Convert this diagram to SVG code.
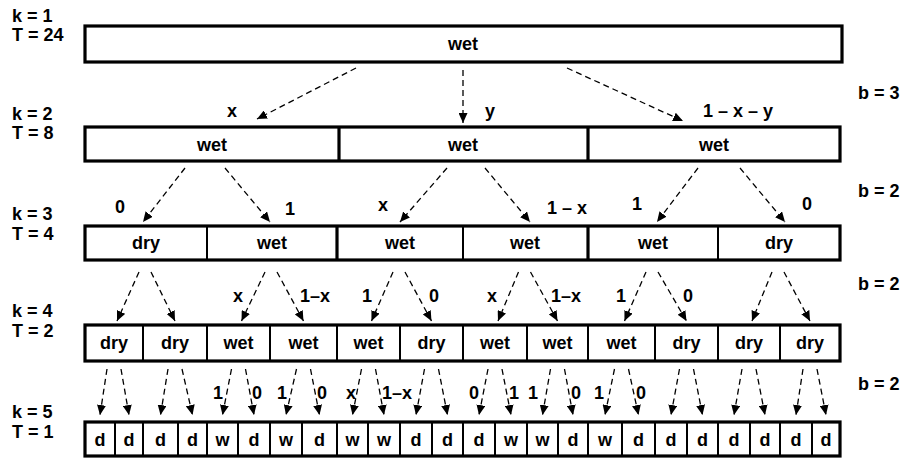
<svg xmlns="http://www.w3.org/2000/svg" width="903" height="458" viewBox="0 0 903 458">
  <style>
    .cell { fill: #ffffff; stroke: #000000; stroke-width: 2; }
    .frame { fill: none; stroke: #000000; stroke-width: 3.2; }
    .thick { stroke: #000000; stroke-width: 3.2; }
    .t { font-family: "Liberation Sans", Arial, sans-serif; font-weight: bold; font-size: 18px; fill: #000000; text-anchor: middle; }
    .side { font-family: "Liberation Sans", Arial, sans-serif; font-weight: bold; font-size: 18px; fill: #000000; }
    .p { font-family: "Liberation Sans", Arial, sans-serif; font-weight: bold; font-size: 18px; fill: #000000; }
    .e { stroke: #000000; stroke-width: 1.3; stroke-dasharray: 6 4; fill: none; marker-end: url(#ah); }
  </style>
  <defs>
    <marker id="ah" markerUnits="userSpaceOnUse" markerWidth="10" markerHeight="9" refX="10" refY="4.5" orient="auto">
      <path d="M0,0 L10,4.5 L0,9 Z" fill="#000000"/>
    </marker>
  </defs>

  <rect width="903" height="458" fill="#ffffff"/>

  <!-- level labels -->
  <g id="levels">
    <text class="side" x="12" y="22">k = 1</text>
    <text class="side" x="12" y="41">T = 24</text>
    <text class="side" x="12" y="120">k = 2</text>
    <text class="side" x="12" y="139">T = 8</text>
    <text class="side" x="12" y="220">k = 3</text>
    <text class="side" x="12" y="240">T = 4</text>
    <text class="side" x="12" y="317">k = 4</text>
    <text class="side" x="12" y="337">T = 2</text>
    <text class="side" x="12" y="418">k = 5</text>
    <text class="side" x="12" y="438">T = 1</text>
  </g>

  <!-- branching factors -->
  <g id="branching">
    <text class="side" x="858" y="99">b = 3</text>
    <text class="side" x="858" y="197">b = 2</text>
    <text class="side" x="858" y="290">b = 2</text>
    <text class="side" x="858" y="390">b = 2</text>
  </g>

  <!-- k = 1 -->
  <g id="n1">
    <rect class="frame" x="85" y="26" width="757" height="36" fill="#ffffff"/>
    <text class="t" x="463" y="50">wet</text>
  </g>

  <!-- k = 2 -->
  <g id="row2">
    <g id="n2-1"><rect class="cell" x="85" y="127" width="254" height="34"/><text class="t" x="212" y="151">wet</text></g>
    <g id="n2-2"><rect class="cell" x="339" y="127" width="249" height="34"/><text class="t" x="463" y="151">wet</text></g>
    <g id="n2-3"><rect class="cell" x="588" y="127" width="252" height="34"/><text class="t" x="714" y="151">wet</text></g>
    <rect class="frame" x="85" y="127" width="755" height="34"/>
    <line class="thick" x1="339" y1="127" x2="339" y2="161"/>
    <line class="thick" x1="588" y1="127" x2="588" y2="161"/>
  </g>

  <!-- k = 3 -->
  <g id="row3">
    <g id="n3-1"><rect class="cell" x="85" y="226" width="122" height="34"/><text class="t" x="146" y="249">dry</text></g>
    <g id="n3-2"><rect class="cell" x="207" y="226" width="130" height="34"/><text class="t" x="272" y="249">wet</text></g>
    <g id="n3-3"><rect class="cell" x="337" y="226" width="126" height="34"/><text class="t" x="400" y="249">wet</text></g>
    <g id="n3-4"><rect class="cell" x="463" y="226" width="125" height="34"/><text class="t" x="525" y="249">wet</text></g>
    <g id="n3-5"><rect class="cell" x="588" y="226" width="130" height="34"/><text class="t" x="653" y="249">wet</text></g>
    <g id="n3-6"><rect class="cell" x="718" y="226" width="122" height="34"/><text class="t" x="779" y="249">dry</text></g>
    <rect class="frame" x="85" y="226" width="755" height="34"/>
    <line class="thick" x1="337" y1="226" x2="337" y2="260"/>
    <line class="thick" x1="588" y1="226" x2="588" y2="260"/>
  </g>

  <!-- k = 4 -->
  <g id="row4">
    <g id="n4-1"><rect class="cell" x="85" y="325" width="58" height="36"/><text class="t" x="114" y="349">dry</text></g>
    <g id="n4-2"><rect class="cell" x="143" y="325" width="64" height="36"/><text class="t" x="175" y="349">dry</text></g>
    <g id="n4-3"><rect class="cell" x="207" y="325" width="63" height="36"/><text class="t" x="238.5" y="349">wet</text></g>
    <g id="n4-4"><rect class="cell" x="270" y="325" width="67" height="36"/><text class="t" x="303.5" y="349">wet</text></g>
    <g id="n4-5"><rect class="cell" x="337" y="325" width="63" height="36"/><text class="t" x="368.5" y="349">wet</text></g>
    <g id="n4-6"><rect class="cell" x="400" y="325" width="63" height="36"/><text class="t" x="431.5" y="349">dry</text></g>
    <g id="n4-7"><rect class="cell" x="463" y="325" width="64" height="36"/><text class="t" x="495" y="349">wet</text></g>
    <g id="n4-8"><rect class="cell" x="527" y="325" width="61" height="36"/><text class="t" x="557.5" y="349">wet</text></g>
    <g id="n4-9"><rect class="cell" x="588" y="325" width="67" height="36"/><text class="t" x="621.5" y="349">wet</text></g>
    <g id="n4-10"><rect class="cell" x="655" y="325" width="63" height="36"/><text class="t" x="686.5" y="349">dry</text></g>
    <g id="n4-11"><rect class="cell" x="718" y="325" width="62" height="36"/><text class="t" x="749" y="349">dry</text></g>
    <g id="n4-12"><rect class="cell" x="780" y="325" width="60" height="36"/><text class="t" x="810" y="349">dry</text></g>
    <rect class="frame" x="85" y="325" width="755" height="36"/>
  </g>

  <!-- k = 5 -->
  <g id="row5">
    <g id="n5-1"><rect class="cell" x="85" y="422" width="30" height="34"/><text class="t" x="100" y="446">d</text></g>
    <g id="n5-2"><rect class="cell" x="115" y="422" width="28" height="34"/><text class="t" x="129" y="446">d</text></g>
    <g id="n5-3"><rect class="cell" x="143" y="422" width="35" height="34"/><text class="t" x="160.5" y="446">d</text></g>
    <g id="n5-4"><rect class="cell" x="178" y="422" width="29" height="34"/><text class="t" x="192.5" y="446">d</text></g>
    <g id="n5-5"><rect class="cell" x="207" y="422" width="31" height="34"/><text class="t" x="222.5" y="446">w</text></g>
    <g id="n5-6"><rect class="cell" x="238" y="422" width="32" height="34"/><text class="t" x="254" y="446">d</text></g>
    <g id="n5-7"><rect class="cell" x="270" y="422" width="32" height="34"/><text class="t" x="286" y="446">w</text></g>
    <g id="n5-8"><rect class="cell" x="302" y="422" width="35" height="34"/><text class="t" x="319.5" y="446">d</text></g>
    <g id="n5-9"><rect class="cell" x="337" y="422" width="31" height="34"/><text class="t" x="352.5" y="446">w</text></g>
    <g id="n5-10"><rect class="cell" x="368" y="422" width="32" height="34"/><text class="t" x="384" y="446">w</text></g>
    <g id="n5-11"><rect class="cell" x="400" y="422" width="32" height="34"/><text class="t" x="416" y="446">d</text></g>
    <g id="n5-12"><rect class="cell" x="432" y="422" width="31" height="34"/><text class="t" x="447.5" y="446">d</text></g>
    <g id="n5-13"><rect class="cell" x="463" y="422" width="32" height="34"/><text class="t" x="479" y="446">d</text></g>
    <g id="n5-14"><rect class="cell" x="495" y="422" width="32" height="34"/><text class="t" x="511" y="446">w</text></g>
    <g id="n5-15"><rect class="cell" x="527" y="422" width="31" height="34"/><text class="t" x="542.5" y="446">w</text></g>
    <g id="n5-16"><rect class="cell" x="558" y="422" width="30" height="34"/><text class="t" x="573" y="446">d</text></g>
    <g id="n5-17"><rect class="cell" x="588" y="422" width="34" height="34"/><text class="t" x="605" y="446">w</text></g>
    <g id="n5-18"><rect class="cell" x="622" y="422" width="33" height="34"/><text class="t" x="638.5" y="446">d</text></g>
    <g id="n5-19"><rect class="cell" x="655" y="422" width="32" height="34"/><text class="t" x="671" y="446">d</text></g>
    <g id="n5-20"><rect class="cell" x="687" y="422" width="31" height="34"/><text class="t" x="702.5" y="446">d</text></g>
    <g id="n5-21"><rect class="cell" x="718" y="422" width="32" height="34"/><text class="t" x="734" y="446">d</text></g>
    <g id="n5-22"><rect class="cell" x="750" y="422" width="30" height="34"/><text class="t" x="765" y="446">d</text></g>
    <g id="n5-23"><rect class="cell" x="780" y="422" width="32" height="34"/><text class="t" x="796" y="446">d</text></g>
    <g id="n5-24"><rect class="cell" x="812" y="422" width="28" height="34"/><text class="t" x="826" y="446">d</text></g>
    <rect class="frame" x="85" y="422" width="755" height="34"/>
  </g>

  <!-- transitions -->
  <g id="connectors">
    <line class="e" x1="356" y1="68" x2="257" y2="119"/>
    <line class="e" x1="463" y1="70" x2="463" y2="123"/>
    <line class="e" x1="567" y1="68" x2="683" y2="121"/>

    <line class="e" x1="185" y1="168" x2="143" y2="222"/>
    <line class="e" x1="225" y1="168" x2="270" y2="222"/>
    <line class="e" x1="447" y1="168" x2="400" y2="222"/>
    <line class="e" x1="485" y1="168" x2="530" y2="222"/>
    <line class="e" x1="698" y1="168" x2="657" y2="222"/>
    <line class="e" x1="740" y1="168" x2="785" y2="222"/>

    <line class="e" x1="139" y1="272" x2="117" y2="321"/>
    <line class="e" x1="151" y1="272" x2="175" y2="321"/>
    <line class="e" x1="265" y1="272" x2="241.5" y2="321"/>
    <line class="e" x1="277" y1="272" x2="303.5" y2="321"/>
    <line class="e" x1="393" y1="272" x2="371.5" y2="321"/>
    <line class="e" x1="405" y1="272" x2="431.5" y2="321"/>
    <line class="e" x1="518.5" y1="272" x2="498" y2="321"/>
    <line class="e" x1="530.5" y1="272" x2="557.5" y2="321"/>
    <line class="e" x1="646" y1="272" x2="624.5" y2="321"/>
    <line class="e" x1="658" y1="272" x2="686.5" y2="321"/>
    <line class="e" x1="772" y1="272" x2="752" y2="321"/>
    <line class="e" x1="784" y1="272" x2="810" y2="321"/>

    <line class="e" x1="107" y1="369" x2="100" y2="415"/>
    <line class="e" x1="121" y1="369" x2="129" y2="415"/>
    <line class="e" x1="168" y1="369" x2="160.5" y2="415"/>
    <line class="e" x1="182" y1="369" x2="192.5" y2="415"/>
    <line class="e" x1="231.5" y1="369" x2="222.5" y2="415"/>
    <line class="e" x1="245.5" y1="369" x2="254" y2="415"/>
    <line class="e" x1="296.5" y1="369" x2="286" y2="415"/>
    <line class="e" x1="310.5" y1="369" x2="319.5" y2="415"/>
    <line class="e" x1="361.5" y1="369" x2="352.5" y2="415"/>
    <line class="e" x1="375.5" y1="369" x2="384" y2="415"/>
    <line class="e" x1="424.5" y1="369" x2="416" y2="415"/>
    <line class="e" x1="438.5" y1="369" x2="447.5" y2="415"/>
    <line class="e" x1="488" y1="369" x2="479" y2="415"/>
    <line class="e" x1="502" y1="369" x2="511" y2="415"/>
    <line class="e" x1="550.5" y1="369" x2="542.5" y2="415"/>
    <line class="e" x1="564.5" y1="369" x2="573" y2="415"/>
    <line class="e" x1="614.5" y1="369" x2="605" y2="415"/>
    <line class="e" x1="628.5" y1="369" x2="638.5" y2="415"/>
    <line class="e" x1="679.5" y1="369" x2="671" y2="415"/>
    <line class="e" x1="693.5" y1="369" x2="702.5" y2="415"/>
    <line class="e" x1="742" y1="369" x2="734" y2="415"/>
    <line class="e" x1="756" y1="369" x2="765" y2="415"/>
    <line class="e" x1="803" y1="369" x2="796" y2="415"/>
    <line class="e" x1="817" y1="369" x2="826" y2="415"/>
  </g>

  <!-- transition probabilities -->
  <g id="probabilities">
    <text class="p" x="232" y="117" text-anchor="middle">x</text>
    <text class="p" x="485" y="117">y</text>
    <text class="p" x="703" y="117">1 – x – y</text>

    <text class="p" x="120" y="213" text-anchor="middle">0</text>
    <text class="p" x="290" y="215" text-anchor="middle">1</text>
    <text class="p" x="383" y="211" text-anchor="middle">x</text>
    <text class="p" x="547" y="214">1 – x</text>
    <text class="p" x="637" y="210" text-anchor="middle">1</text>
    <text class="p" x="807" y="210" text-anchor="middle">0</text>

    <text class="p" x="243" y="302" text-anchor="end">x</text>
    <text class="p" x="300" y="302">1–x</text>
    <text class="p" x="372" y="302" text-anchor="end">1</text>
    <text class="p" x="429" y="302">0</text>
    <text class="p" x="497" y="302" text-anchor="end">x</text>
    <text class="p" x="551" y="302">1–x</text>
    <text class="p" x="626" y="302" text-anchor="end">1</text>
    <text class="p" x="683" y="302">0</text>

    <text class="p" x="223" y="399" text-anchor="end">1</text>
    <text class="p" x="252" y="399">0</text>
    <text class="p" x="287" y="399" text-anchor="end">1</text>
    <text class="p" x="317" y="399">0</text>
    <text class="p" x="356" y="399" text-anchor="end">x</text>
    <text class="p" x="382" y="399">1–x</text>
    <text class="p" x="479" y="399" text-anchor="end">0</text>
    <text class="p" x="509" y="399">1</text>
    <text class="p" x="538" y="399" text-anchor="end">1</text>
    <text class="p" x="571" y="399">0</text>
    <text class="p" x="604" y="399" text-anchor="end">1</text>
    <text class="p" x="636" y="399">0</text>
  </g>
</svg>
